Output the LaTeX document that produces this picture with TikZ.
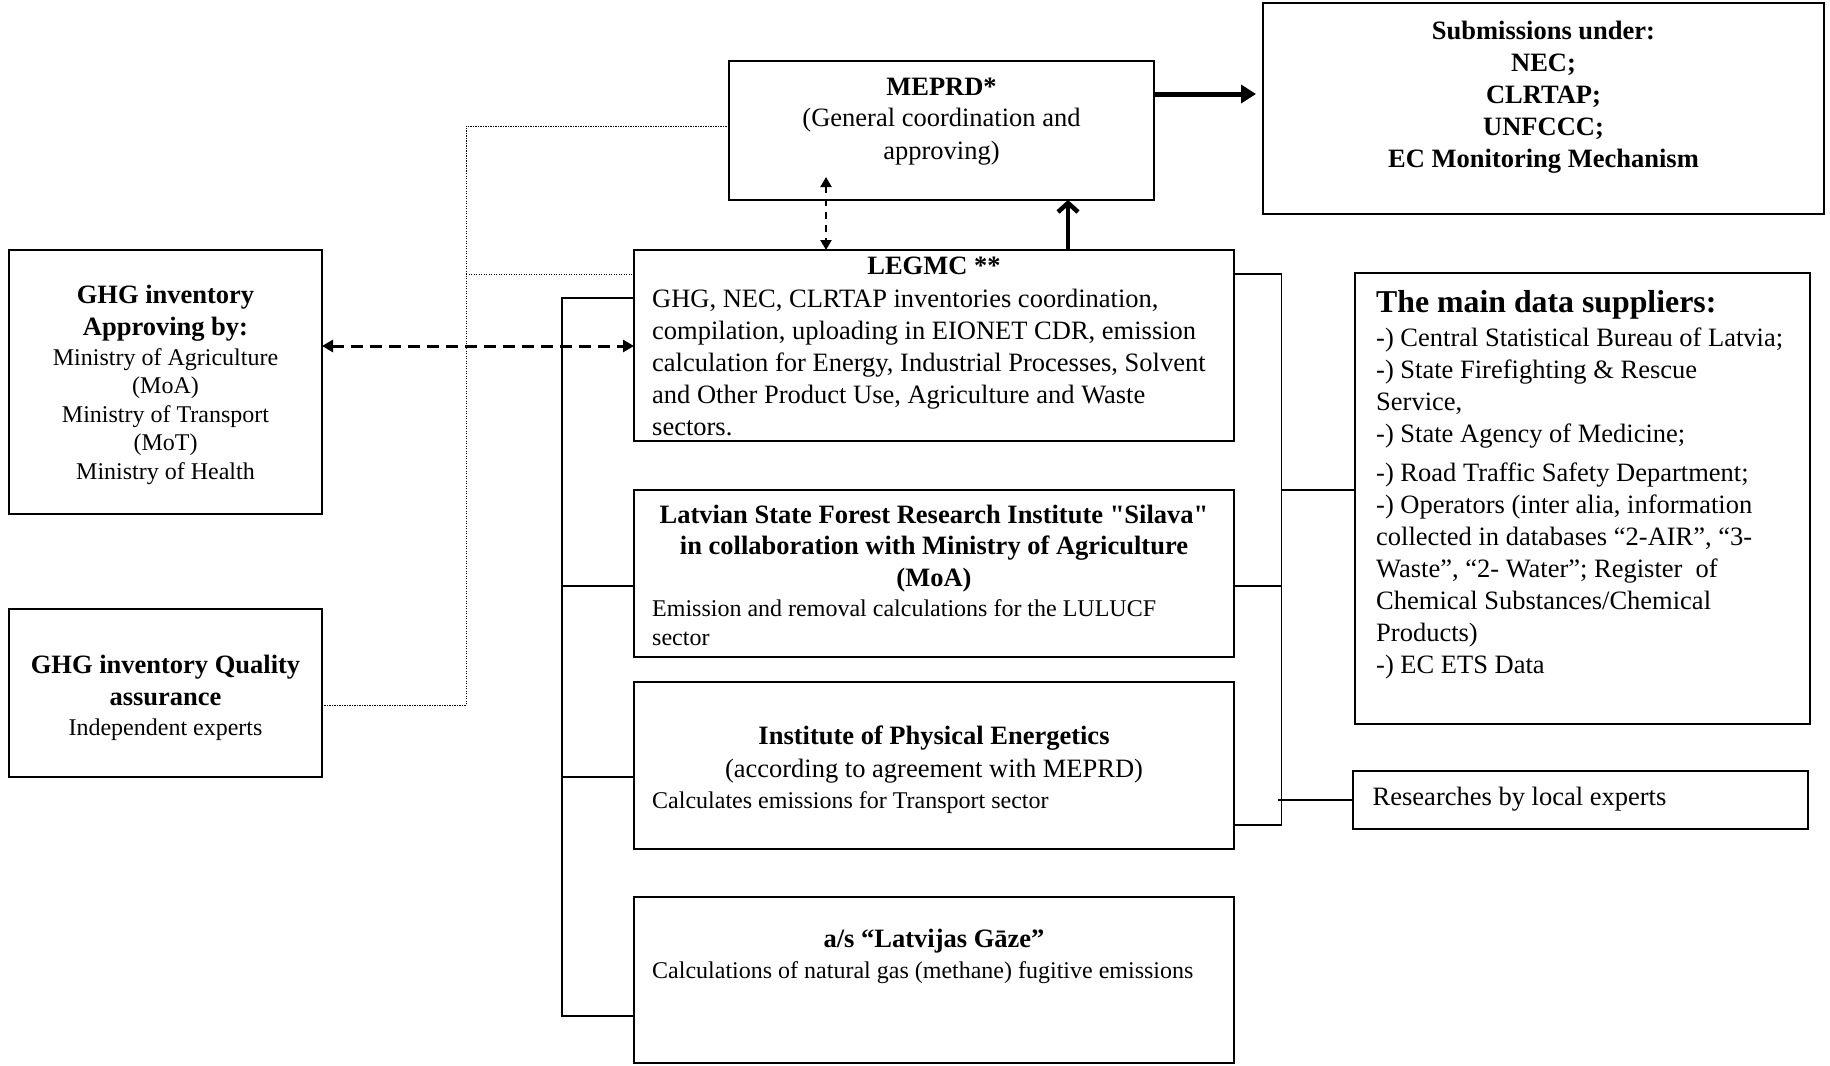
\documentclass[tikz,border=0pt]{standalone}
\usepackage{fontspec}
\setmainfont{Liberation Serif}
\usetikzlibrary{arrows.meta}
\newcommand{\fsA}{\fontsize{26.5}{32}\selectfont}
\newcommand{\fsB}{\fontsize{24}{28.6}\selectfont}
\newcommand{\fsC}{\fontsize{24}{29}\selectfont}
\newcommand{\fsT}{\fontsize{31.8}{36}\selectfont}
\newcommand{\myL}[2]{\begin{tabular}[t]{@{}#1@{}}#2\end{tabular}}
\newcommand{\sqq}{\XeTeXglyph\XeTeXcharglyph"22\relax}
\begin{document}
\begin{tikzpicture}[x=1pt,y=-1pt,
  box/.style={draw, line width=1.6pt, inner sep=0pt, outer sep=0pt, anchor=north west},
  txt/.style={inner sep=0pt, anchor=base},
  txtl/.style={inner sep=0pt, anchor=base west},
  conn/.style={line width=1.8pt},
  dots/.style={line width=1pt, dash pattern=on 1.2pt off 1.3pt},
  dsh/.style={line width=3pt, dash pattern=on 12pt off 7pt, {Triangle[length=11pt,width=12pt]}-{Triangle[length=11pt,width=12pt]}},
  bigarrow/.style={line width=5pt, -{Triangle[length=15pt,width=18pt]}},
  uparrow/.style={line width=4.5pt, -{Straight Barb[length=9pt,width=20pt]}}
]
\useasboundingbox (0,0) rectangle (1830,1065);

% boxes
\node[box, minimum width=425pt, minimum height=139pt] (meprd) at (729,61) {};
\node[box, minimum width=561pt, minimum height=211pt] (subm) at (1263,3) {};
\node[box, minimum width=313pt, minimum height=264pt] (appr) at (9,250) {};
\node[box, minimum width=313pt, minimum height=168pt] (qa) at (9,609) {};
\node[box, minimum width=600pt, minimum height=191pt] (legmc) at (634,250) {};
\node[box, minimum width=600pt, minimum height=167pt] (silava) at (634,490) {};
\node[box, minimum width=600pt, minimum height=167pt] (ipe) at (634,682) {};
\node[box, minimum width=600pt, minimum height=166pt] (gaze) at (634,897) {};
\node[box, minimum width=455pt, minimum height=451pt] (supp) at (1355,273) {};
\node[box, minimum width=455pt, minimum height=58pt] (res) at (1353,771) {};

% texts
\node[txt] (meprdT) at (941.5,95) {\fsA\myL{c}{\textbf{MEPRD*}\\(General coordination and\\approving)}};
\node[txt] (submT) at (1543.5,39.5) {\fsA\bfseries\myL{c}{Submissions under:\\NEC;\\CLRTAP;\\UNFCCC;\\EC Monitoring Mechanism}};
\node[txt] (apprT) at (165.5,303) {\fsA\bfseries\myL{c}{GHG inventory\\Approving by:}};
\node[txt] (apprB) at (165.5,365) {\fsB\myL{c}{Ministry of Agriculture\\(MoA)\\Ministry of Transport\\(MoT)\\Ministry of Health}};
\node[txt] (qaT) at (165.5,673) {\fsA\bfseries\myL{c}{GHG inventory Quality\\assurance}};
\node[txt] (qaB) at (165.5,735) {\fsB Independent experts};
\node[txt] (legmcT) at (934,274) {\fsA\bfseries LEGMC **};
\node[txtl] (legmcB) at (652,307) {\fsA\myL{l}{GHG, NEC, CLRTAP inventories coordination,\\compilation, uploading in EIONET CDR, emission\\calculation for Energy, Industrial Processes, Solvent\\and Other Product Use, Agriculture and Waste\\sectors.}};
\node[txt] (silavaT) at (934,523) {\fontsize{26.5}{31.5}\selectfont\bfseries\myL{c}{Latvian State Forest Research Institute \sqq Silava\sqq\\in collaboration with Ministry of Agriculture\\(MoA)}};
\node[txtl] (silavaB) at (652,616) {\fsC\myL{l}{Emission and removal calculations for the LULUCF\\sector}};
\node[txt] (ipeT) at (934,744) {\fsA\bfseries Institute of Physical Energetics};
\node[txt] (ipeM) at (934,777) {\fsA (according to agreement with MEPRD)};
\node[txtl] (ipeB) at (652,808) {\fsC Calculates emissions for Transport sector};
\node[txt] (gazeT) at (934,947.5) {\fsA\bfseries a/s “Latvijas Gāze”};
\node[txtl] (gazeB) at (652,978) {\fsC Calculations of natural gas (methane) fugitive emissions};
\node[txtl] (suppT) at (1376,312.6) {\fsT\bfseries The main data suppliers:};
\node[txtl] (suppB) at (1376,346.5) {\fsA\myL{l}{-) Central Statistical Bureau of Latvia;\\-) State Firefighting \& Rescue\\Service,\\-) State Agency of Medicine;\\[6.7pt]-) Road Traffic Safety Department;\\-) Operators (inter alia, information\\collected in databases “2-AIR”, “3-\\Waste”, “2- Water”; Register\ \ of\\Chemical Substances/Chemical\\Products)\\-) EC ETS Data}};
\node[txtl] (resT) at (1372.5,805) {\fsA Researches by local experts};

% helper coordinates
\coordinate (y94) at (0,94);
\coordinate (xup) at (1068,0);
\coordinate (dvtop) at (826,177);
\coordinate (ydash) at (0,346);
\coordinate (dA) at (466,126);
\coordinate (dB) at (466,705);
\coordinate (dC) at (466,274);
\coordinate (lb) at (562,0);
\coordinate (rb) at (1281.5,0);
\coordinate (y298) at (0,298);
\coordinate (y586) at (0,586);
\coordinate (y777) at (0,777);
\coordinate (y1016) at (0,1016);
\coordinate (y274) at (0,274);
\coordinate (y825) at (0,825);
\coordinate (y490) at (0,490);
\coordinate (rbr) at (1278,0);

% connectors
\draw[bigarrow, shorten >=7pt] (meprd.east |- y94) -- (subm.west |- y94);
\draw[uparrow] (legmc.north -| xup) -- (meprd.south -| xup);
\draw[line width=2.2pt, dash pattern=on 7pt off 6pt, {Triangle[length=10pt,width=11pt]}-{Triangle[length=10pt,width=11pt]}] (dvtop) -- (legmc.north -| dvtop);
\draw[dsh] (appr.east |- ydash) -- (legmc.west |- ydash);
\draw[dots] (meprd.west |- dA) -- (dA) -- (dB) -- (qa.east |- dB);
\draw[dots] (dC) -- (legmc.west |- dC);
\draw[conn] (legmc.west |- y298) -- (lb |- y298) -- (lb |- y1016) -- (gaze.west |- y1016);
\draw[conn] (silava.west |- y586) -- (lb |- y586);
\draw[conn] (ipe.west |- y777) -- (lb |- y777);
\draw[conn] (legmc.east |- y274) -- (rb |- y274) -- (rb |- y825) -- (ipe.east |- y825);
\draw[conn] (silava.east |- y586) -- (rb |- y586);
\draw[conn] (rb |- y490) -- (supp.west |- y490);
\draw[conn] (rbr |- res.west) -- (res.west);
\end{tikzpicture}
\end{document}
